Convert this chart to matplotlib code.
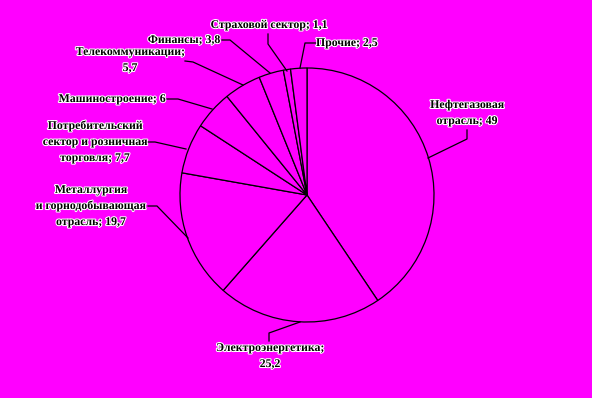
import matplotlib
matplotlib.use("Agg")
import matplotlib.pyplot as plt
import matplotlib.patheffects as pe

# доли отраслей
labels = ["Нефтегазовая\nотрасль; 49", "Электроэнергетика;\n25,2",
          "Металлургия\nи горнодобывающая\nотрасль; 19,7",
          "Потребительский\nсектор и розничная\nторговля; 7,7",
          "Машиностроение; 6", "Телекоммуникации;\n5,7", "Финансы; 3,8",
          "Страховой сектор; 1,1", "Прочие; 2,5"]
values = [49, 25.2, 19.7, 7.7, 6, 5.7, 3.8, 1.1, 2.5]

bg = "#ff00ff"
H = 398
cx, cy, r = 307, H - 195, 127

# позиции подписей (пиксели, сверху вниз) и ломаные выноски
text_pos = [(467, 113, "center"), (270, 356, "center"), (146, 206, "right"),
            (95, 142, "center"), (165, 99, "right"), (130, 60, "center"),
            (220, 40, "right"), (269, 25, "center"), (316, 43, "left")]
leaders = [[(467, 130), (467, 139), (428, 158)],
           [(269, 341), (269, 333), (300, 322)],
           [(148, 206), (157, 206), (188, 238)],
           [(146, 142), (155, 142), (186, 149)],
           [(166, 99), (178, 99), (212, 109)],
           [(185, 61), (193, 62), (243, 85)],
           [(222, 40), (230, 40), (270, 73)],
           [(268, 34), (268, 44), (287, 71)],
           [(316, 43), (305, 43), (300, 68)]]

fig = plt.figure(figsize=(5.92, 3.98), dpi=100, facecolor=bg)
ax = fig.add_axes([0, 0, 1, 1])
ax.set_facecolor(bg)
ax.axis("off")

ax.pie(values, center=(cx, cy), radius=r, startangle=90, counterclock=False,
       colors=[bg] * len(values),
       wedgeprops=dict(edgecolor="black", linewidth=0.9))
ax.set_xlim(0, 592)
ax.set_ylim(0, H)
ax.set_aspect("equal")

for lab, (x, y, ha), pts in zip(labels, text_pos, leaders):
    ax.text(x, H - y, lab, ha=ha, va="center", multialignment="center",
            fontsize=8.5, fontweight="bold",
            family="Liberation Serif", color="black", linespacing=1.45,
            path_effects=[pe.withStroke(linewidth=1.5, foreground="white")])
    ax.plot([p[0] for p in pts], [H - p[1] for p in pts], color="black", lw=0.9)

fig.savefig("out.png", dpi=100, facecolor=bg)
